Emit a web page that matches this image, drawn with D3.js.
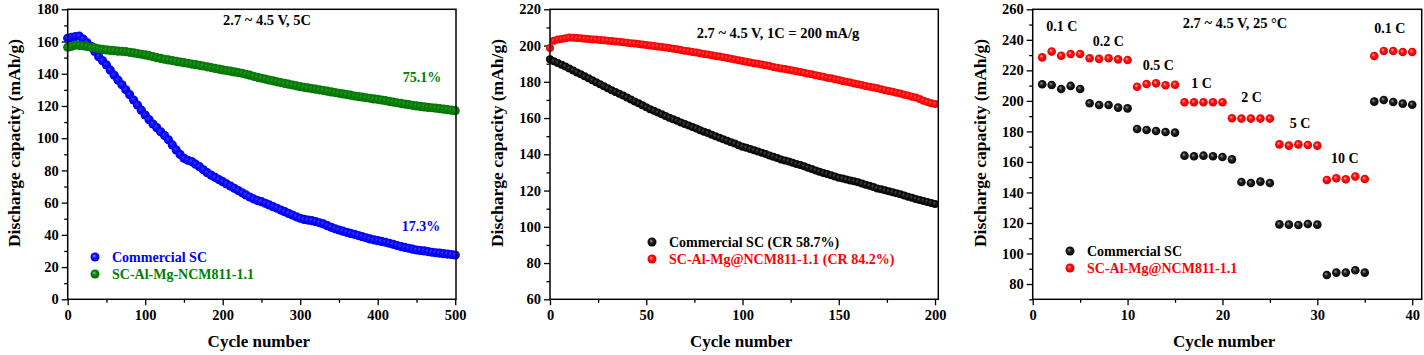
<!DOCTYPE html>
<html><head><meta charset="utf-8">
<script src="https://cdn.jsdelivr.net/npm/d3@7"></script>
<style>
html,body{margin:0;padding:0;background:#fff;}
svg{display:block;}
text{font-family:"Liberation Serif","Times New Roman",serif;font-weight:bold;}
</style></head><body>
<svg id="chart" width="1424" height="355"></svg>
<script>
// ---------- Panel 1: 5C long cycling (values read every 5 cycles) ----------
const p1Cycles = d3.range(0, 501, 5);
const p1Commercial = [162.0,162.6,163.1,163.3,161.5,159.3,157.0,153.8,150.6,148.1,145.5,142.2,139.1,136.0,133.1,130.0,127.0,123.7,120.6,117.4,
114.4,111.5,108.8,106.5,104.0,101.6,99.0,95.8,92.7,89.9,87.5,86.3,85.5,83.9,82.3,80.4,78.6,77.1,75.7,74.3,
73.0,71.6,70.3,68.9,67.5,66.1,64.8,63.5,62.3,61.3,60.6,59.6,58.6,57.5,56.5,55.4,54.4,53.3,52.3,51.2,
50.3,49.6,49.2,48.8,48.2,47.5,46.8,45.7,44.7,43.8,43.0,42.3,41.6,40.9,40.3,39.6,38.9,38.2,37.5,36.9,
36.4,35.9,35.4,34.8,34.1,33.4,32.7,32.2,31.7,31.1,30.6,30.3,30.0,29.6,29.2,28.9,28.6,28.3,28.1,27.8,27.5];
const p1Modified = [156.5,157.0,157.8,157.6,157.3,156.9,156.4,156.0,155.5,155.1,154.8,154.5,154.3,154.0,153.9,153.7,153.3,152.9,152.5,152.1,
151.7,151.2,150.6,150.0,149.5,149.0,148.6,148.2,147.7,147.3,146.9,146.5,146.0,145.6,145.2,144.8,144.3,143.8,143.3,142.9,
142.4,142.0,141.6,141.1,140.7,140.3,139.7,139.1,138.4,137.8,137.2,136.7,136.1,135.6,135.0,134.5,134.0,133.5,133.0,132.5,
132.0,131.6,131.2,130.8,130.4,130.0,129.6,129.2,128.7,128.3,127.9,127.5,127.1,126.7,126.2,125.8,125.5,125.1,124.8,124.4,
124.1,123.7,123.3,122.8,122.4,122.0,121.6,121.2,120.8,120.4,120.0,119.7,119.4,119.1,118.9,118.6,118.3,118.0,117.7,117.4,117.1];
const p1Legend = ["Commercial SC", "SC-Al-Mg-NCM811-1.1"];
const p1Title = "2.7 ~ 4.5 V, 5C";
const p1Retention = [{text:"75.1%", x:457, y:135, c:"#008000"}, {text:"17.3%", x:456, y:42.4, c:"#0000ff"}];
const p1XTicks = [0,100,200,300,400,500];
const p1YTicks = [0,20,40,60,80,100,120,140,160,180];

// ---------- Panel 2: 1C cycling (values read every 2 cycles) ----------
const p2Cycles = d3.range(0, 201, 2);
const p2Commercial = [192.4,191.3,190.4,189.4,188.4,187.4,186.3,185.2,184.1,183.0,181.9,180.8,179.7,178.6,177.5,176.4,175.4,174.4,173.4,172.4,
171.4,170.3,169.2,168.1,167.0,165.9,164.9,164.0,163.0,162.1,161.1,160.2,159.3,158.5,157.6,156.7,155.9,155.0,154.2,153.3,
152.5,151.7,150.8,150.0,149.1,148.3,147.5,146.7,145.9,145.0,144.2,143.6,142.9,142.2,141.6,140.9,140.2,139.4,138.7,137.9,
137.2,136.6,136.0,135.3,134.7,134.1,133.4,132.6,131.9,131.1,130.4,129.7,129.1,128.4,127.8,127.1,126.6,126.1,125.6,125.1,
124.6,123.9,123.2,122.6,121.9,121.2,120.7,120.1,119.6,119.0,118.5,117.9,117.3,116.6,116.0,115.4,114.8,114.3,113.7,113.2,112.6];
const p2Modified = [198.6,202.6,203.3,203.6,204.0,204.4,204.3,204.1,204.0,203.8,203.6,203.4,203.3,203.1,202.9,202.7,202.5,202.3,202.1,201.8,
201.6,201.3,201.1,200.8,200.6,200.3,200.0,199.7,199.5,199.2,198.9,198.6,198.2,197.9,197.5,197.2,196.8,196.5,196.1,195.8,
195.4,195.0,194.6,194.3,193.9,193.5,193.1,192.7,192.3,191.9,191.5,191.1,190.7,190.3,189.9,189.5,189.1,188.7,188.2,187.8,
187.4,187.0,186.6,186.2,185.8,185.4,185.0,184.5,184.1,183.6,183.2,182.8,182.3,181.9,181.4,181.0,180.5,180.0,179.6,179.1,
178.6,178.2,177.7,177.3,176.8,176.4,175.9,175.4,174.9,174.5,174.0,173.5,172.9,172.4,171.8,171.3,170.5,169.6,168.8,168.2,167.8];
const p2Legend = ["Commercial SC (CR 58.7%)", "SC-Al-Mg@NCM811-1.1 (CR 84.2%)"];
const p2Title = "2.7 ~ 4.5 V, 1C = 200 mA/g";
const p2XTicks = [0,50,100,150,200];
const p2YTicks = [60,80,100,120,140,160,180,200,220];

// ---------- Panel 3: rate capability ----------
const p3Cycles = d3.range(1, 41);
const p3Commercial = [210.9,210.4,207.8,209.8,207.8,198.4,197.3,197.3,195.6,195.1,181.6,180.9,180.3,179.6,179.2,164.1,163.7,164.1,163.7,163.2,
161.7,146.9,146.2,147.1,146.2,119.1,118.9,118.7,119.3,118.9,85.9,87.5,87.5,89.0,87.5,199.5,200.6,199.3,198.2,197.5];
const p3Modified = [228.5,232.3,229.6,230.7,230.7,227.9,227.5,227.9,227.2,226.8,209.3,211.1,211.5,210.2,210.6,199.1,199.1,199.1,199.1,199.1,
188.6,188.4,188.4,188.4,188.4,171.5,170.7,171.5,171.1,170.7,148.2,149.3,148.6,150.4,148.8,229.4,232.7,232.7,232.0,232.0];
const p3Legend = ["Commercial SC", "SC-Al-Mg@NCM811-1.1"];
const p3Title = "2.7 ~ 4.5 V, 25 \u00B0C";
const p3RateLabels = ["0.1 C","0.2 C","0.5 C","1 C","2 C","5 C","10 C","0.1 C"];
const p3RateX = [3.06, 7.97, 13.24, 17.8, 23.07, 28.17, 32.9, 37.65];
const p3RateY = [246.0, 236.2, 220.2, 208.2, 199.5, 182.0, 159.1, 244.3];
const p3XTicks = [0,10,20,30,40];
const p3YTicks = [80,100,120,140,160,180,200,220,240,260];

const svg = d3.select("#chart");
const defs = svg.append("defs");
function grad(id, light, mid, dark){
  const g = defs.append("radialGradient").attr("id", id).attr("cx","50%").attr("cy","50%").attr("r","55%").attr("fx","38%").attr("fy","35%");
  g.append("stop").attr("offset","0%").attr("stop-color", light);
  g.append("stop").attr("offset","40%").attr("stop-color", mid);
  g.append("stop").attr("offset","100%").attr("stop-color", dark);
}
grad("gBlue", "#9c9cff", "#1010ff", "#0000d0");
grad("gGreen", "#7fcf7f", "#0a8a0a", "#006400");
grad("gBlack", "#9a9a9a", "#202020", "#000000");
grad("gRed", "#ffb0b0", "#ff1010", "#d80000");
// flatter versions for dense bands
grad("fBlue", "#3c3cff", "#0c0cff", "#0000e0");
grad("fGreen", "#2a962a", "#0a820a", "#007000");
grad("fBlack", "#4a4a4a", "#151515", "#000000");
grad("fRed", "#ff5050", "#ff1010", "#ee0000");

function drawPanel(cfg){
  const x = d3.scaleLinear().domain(cfg.xDomain).range([cfg.left, cfg.right]);
  const y = d3.scaleLinear().domain(cfg.yDomain).range([299.3, 9.3]);
  const g = svg.append("g");

  // minor ticks
  g.append("g").attr("transform", `translate(${cfg.left},0)`)
    .call(d3.axisLeft(y).tickValues(cfg.yMinor).tickSize(3.5).tickFormat("").tickSizeOuter(0))
    .call(s => s.select(".domain").remove());
  g.append("g").attr("transform", `translate(0,299.3)`)
    .call(d3.axisBottom(x).tickValues(cfg.xMinor).tickSize(3.5).tickFormat("").tickSizeOuter(0))
    .call(s => s.select(".domain").remove());
  // major ticks
  const ya = g.append("g").attr("transform", `translate(${cfg.left},0)`)
    .call(d3.axisLeft(y).tickValues(cfg.yTicks).tickSize(6).tickPadding(3).tickSizeOuter(0));
  ya.select(".domain").remove();
  const xa = g.append("g").attr("transform", `translate(0,299.3)`)
    .call(d3.axisBottom(x).tickValues(cfg.xTicks).tickSize(6).tickPadding(4).tickSizeOuter(0));
  xa.select(".domain").remove();
  g.selectAll(".tick line").attr("stroke","#000").attr("stroke-width",1.3);
  g.selectAll(".tick text").attr("font-family","Liberation Serif, serif").attr("font-weight","bold").attr("font-size",14.5).attr("fill","#000");

  // series
  cfg.series.forEach(s => {
    g.append("g").selectAll("circle").data(s.values).join("circle")
      .attr("cx", (d,i) => x(s.cycles[i]))
      .attr("cy", d => y(d))
      .attr("r", s.r)
      .attr("fill", `url(#${s.grad})`);
  });

  // frame
  g.append("rect").attr("x", cfg.left).attr("y", 9.3).attr("width", cfg.right - cfg.left).attr("height", 290)
    .attr("fill","none").attr("stroke","#000").attr("stroke-width",1.5);

  // titles
  g.append("text").attr("x", (cfg.left + cfg.right)/2 - 3).attr("y", 347).attr("text-anchor","middle")
    .attr("font-size",17).text("Cycle number");
  g.append("text").attr("transform", `translate(${cfg.yTitleX},${143}) rotate(-90)`).attr("text-anchor","middle")
    .attr("dominant-baseline","central").attr("font-size",17.5).text("Discharge capacity (mAh/g)");
  g.append("text").attr("x", cfg.titleX).attr("y", cfg.titleY).attr("text-anchor","middle")
    .attr("font-size",14.5).text(cfg.title);

  // legend
  cfg.legend.forEach((l, i) => {
    const ly = cfg.legendY + i * 17;
    g.append("circle").attr("cx", cfg.legendX).attr("cy", ly).attr("r", cfg.legendR).attr("fill", `url(#${l.grad})`);
    g.append("text").attr("x", cfg.legendX + 17).attr("y", ly + 5).attr("font-size",14).attr("fill", l.color).text(l.text);
  });

  return {x, y, g};
}

const pan1 = drawPanel({
  left: 67.7, right: 456, xDomain: [0, 501], yDomain: [0, 180],
  xTicks: p1XTicks, xMinor: [50,150,250,350,450], yTicks: p1YTicks, yMinor: d3.range(10, 180, 20),
  series: [
    {cycles: p1Cycles, values: p1Commercial, grad: "fBlue", r: 4.6},
    {cycles: p1Cycles, values: p1Modified, grad: "fGreen", r: 4.6}
  ],
  yTitleX: 14, titleX: 267, titleY: 25, title: p1Title,
  legendX: 95, legendY: 257, legendR: 4.5,
  legend: [{text: p1Legend[0], grad: "gBlue", color: "#0000ff"}, {text: p1Legend[1], grad: "gGreen", color: "#008000"}]
});
p1Retention.forEach(r => {
  pan1.g.append("text").attr("x", pan1.x(r.x)).attr("y", pan1.y(r.y)).attr("text-anchor","middle")
    .attr("font-size",14).attr("fill", r.c).text(r.text);
});

drawPanel({
  left: 550, right: 938.3, xDomain: [0, 201.7], yDomain: [60, 220],
  xTicks: p2XTicks, xMinor: [25,75,125,175], yTicks: p2YTicks, yMinor: d3.range(70, 220, 20),
  series: [
    {cycles: p2Cycles, values: p2Commercial, grad: "fBlack", r: 4},
    {cycles: p2Cycles, values: p2Modified, grad: "fRed", r: 4}
  ],
  yTitleX: 497, titleX: 778, titleY: 38, title: p2Title,
  legendX: 652, legendY: 242, legendR: 4.5,
  legend: [{text: p2Legend[0], grad: "gBlack", color: "#000"}, {text: p2Legend[1], grad: "gRed", color: "#ff0000"}]
});

const pan3 = drawPanel({
  left: 1032.7, right: 1421.7, xDomain: [0, 41], yDomain: [70, 260],
  xTicks: p3XTicks, xMinor: [5,15,25,35], yTicks: p3YTicks, yMinor: d3.range(70, 260, 20),
  series: [
    {cycles: p3Cycles, values: p3Commercial, grad: "gBlack", r: 4.3},
    {cycles: p3Cycles, values: p3Modified, grad: "gRed", r: 4.3}
  ],
  yTitleX: 980, titleX: 1235, titleY: 28, title: p3Title,
  legendX: 1070, legendY: 251, legendR: 4.5,
  legend: [{text: p3Legend[0], grad: "gBlack", color: "#000"}, {text: p3Legend[1], grad: "gRed", color: "#ff0000"}]
});
p3RateLabels.forEach((t, i) => {
  pan3.g.append("text").attr("x", pan3.x(p3RateX[i])).attr("y", pan3.y(p3RateY[i])).attr("text-anchor","middle")
    .attr("font-size",14).attr("fill","#000").text(t);
});
</script>
</body></html>
